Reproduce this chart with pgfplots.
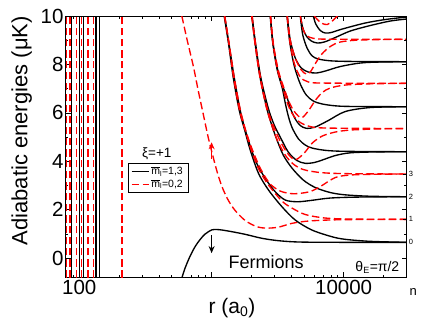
\documentclass[border=0pt]{standalone}
\usepackage{fontspec}
\setmainfont{Liberation Sans}
\usepackage{pgfplots}
\pgfplotsset{compat=1.18}
\usetikzlibrary{arrows.meta}
\pgfplotsset{
 bk/.style={black, line width=1.35pt, smooth, mark=none},
 rd/.style={red, line width=1.35pt, dash pattern=on 7.5pt off 3.5pt, smooth, mark=none},
}
\begin{document}
\begin{tikzpicture}
\begin{axis}[
 scale only axis, width=341pt, height=261.3pt,
 xmode=log, xmin=79, xmax=30000, ymin=-0.8, ymax=10,
 xtick={100,1000,10000}, xticklabels={100,,10000},
 minor xtick={80,90,200,300,400,500,600,700,800,900,2000,3000,4000,5000,6000,7000,8000,9000,20000,30000},
 ytick={0,2,4,6,8,10}, minor ytick={1,3,5,7,9},
 /pgf/number format/assume math mode=true,
 tick label style={font=\fontsize{20.5}{20.5}\selectfont},
 xticklabel style={inner sep=3pt},
 yticklabel style={inner sep=2pt},
 major tick length=5pt, minor tick length=2.5pt,
 tick style={black, line width=0.5pt},
 axis line style={line width=0.8pt},
 xlabel={r (a$_{\mbox{\fontsize{14}{14}\selectfont 0}}$)},
 ylabel={Adiabatic energies (μK)},
 every axis x label/.style={at={(rel axis cs:0.4877,-0.1175)}, anchor=center, font=\fontsize{21}{21}\selectfont},
 every axis y label/.style={at={(rel axis cs:-0.129,0.5607)}, rotate=90, anchor=center, font=\fontsize{22}{22}\selectfont},
 legend style={at={(rel axis cs:0.1818,0.4363)}, anchor=north west, draw=black, line width=0.5pt, font=\fontsize{10.5}{10.5}\selectfont, inner xsep=3pt, inner ysep=1.5pt, row sep=-0.5pt, cells={anchor=west}},
 legend image code/.code={\draw[#1] (0pt,0pt) -- (17pt,0pt);},
]
% black curves (m=1,3)
\addplot[bk] coordinates {(584,-0.997) (632,-0.418) (690,0.078) (753,0.471) (821,0.762) (896,0.988) (1007,1.161) (1105,1.174) (1205,1.153) (1435,1.083) (1800,0.976) (2421,0.810) (3241,0.711) (4699,0.657) (10300,0.645) (30000,0.645)};
\addlegendentry{$\overline{\mbox{m}}_{\mbox{\fontsize{7}{7}\selectfont l}}$=1,3}
\addplot[rd] coordinates {(597,10.0) (655,9.008) (731,7.904) (793,6.941) (870,5.907) (944,4.998) (1012,4.336) (1105,3.551) (1205,2.931) (1338,2.393) (1512,1.959) (1800,1.546) (2144,1.318) (2421,1.244) (2784,1.235) (3241,1.277) (4066,1.430) (5128,1.513) (6660,1.554) (10300,1.583) (30000,1.596)};
\addlegendentry{$\overline{\mbox{m}}_{\mbox{\fontsize{7}{7}\selectfont l}}$=0,2}
\addplot[bk, forget plot] coordinates {(1248,10.0) (1345,8.884) (1460,7.478) (1621,6.114) (1784,5.287) (1965,4.461) (2270,3.497) (2703,2.807) (3415,2.117) (4307,1.566) (5762,1.153) (8168,0.876) (10300,0.769) (15930,0.686) (30000,0.645)};
\addplot[bk, forget plot] coordinates {(1259,10.0) (1362,8.801) (1486,7.478) (1649,6.114) (1832,5.163) (2144,4.047) (2552,3.290) (3038,2.736) (3617,2.393) (4460,2.323) (5594,2.373) (7929,2.476) (13380,2.517) (30000,2.530)};
\addplot[bk, forget plot] coordinates {(2021,10.0) (2137,8.884) (2330,7.478) (2619,6.196) (2858,5.494) (3092,4.956) (3493,4.254) (4066,3.716) (4952,3.220) (6104,2.910) (7929,2.703) (10300,2.608) (15930,2.550) (30000,2.530)};
\addplot[bk, forget plot] coordinates {(2031,10.0) (2154,8.884) (2359,7.478) (2689,6.196) (2985,5.494) (3315,4.998) (3812,4.378) (4437,4.026) (5128,3.911) (5998,3.944) (6897,4.047) (8652,4.233) (11240,4.345) (17390,4.382) (30000,4.390)};
\addplot[bk, forget plot] coordinates {(2784,10.0) (2909,8.884) (3146,7.768) (3433,7.024) (3617,6.403) (3832,5.824) (4087,5.370) (4562,4.915) (5128,4.667) (5762,4.543) (7267,4.448) (10300,4.407) (30000,4.390)};
\addplot[bk, forget plot] coordinates {(2794,10.0) (2924,8.884) (3174,7.768) (3433,7.147) (3726,6.651) (3947,6.196) (4307,5.742) (4699,5.473) (5218,5.358) (6104,5.411) (7657,5.680) (10300,6.052) (15930,6.217) (30000,6.250)};
\addplot[bk, forget plot] coordinates {(3733,10.0) (3913,8.925) (4232,7.933) (4699,7.189) (5218,6.734) (5895,6.486) (6897,6.362) (8652,6.287) (11240,6.262) (30000,6.250)};
\addplot[bk, forget plot] coordinates {(3746,10.0) (3947,9.008) (4307,8.264) (4782,7.850) (5402,7.685) (6211,7.643) (7267,7.726) (9441,7.912) (13380,8.057) (18970,8.098) (30000,8.111)};
\addplot[bk, forget plot] coordinates {(4699,10.0) (4909,9.214) (5309,8.656) (5793,8.346) (6432,8.222) (7929,8.148) (11240,8.123) (30000,8.111)};
\addplot[bk, forget plot] coordinates {(4716,10.0) (4909,9.504) (5218,9.173) (5693,8.966) (6321,8.884) (7142,8.925) (8652,9.111) (11240,9.380) (15930,9.607) (22590,9.793) (30000,9.876)};
\addplot[bk, forget plot] coordinates {(5895,10.0) (6157,9.669) (6660,9.400) (7267,9.297) (8069,9.318) (9776,9.462) (14600,9.711) (20700,9.855) (30000,9.958)};
% black near-vertical walls
\addplot[bk, forget plot] coordinates {(87.3,-0.8) (87.3,10)};
\addplot[bk, forget plot] coordinates {(100,-0.8) (100,10)};
\addplot[bk, forget plot] coordinates {(107.2,-0.8) (107.2,10)};
\addplot[bk, forget plot] coordinates {(133.8,-0.8) (133.8,10)};
\addplot[bk, forget plot] coordinates {(141.7,-0.8) (141.7,10)};
% red curves (m=0,2)
\addplot[rd, forget plot] coordinates {(1255,10.0) (1353,8.884) (1468,7.478) (1629,6.114) (1800,5.287) (2000,4.461) (2298,3.634) (2703,3.014) (3415,2.352) (4066,2.063) (5128,1.794) (7267,1.649) (11240,1.608) (30000,1.596)};
\addplot[rd, forget plot] coordinates {(1261,10.0) (1362,8.842) (1486,7.478) (1649,6.155) (1832,5.204) (2071,4.378) (2380,3.634) (2784,3.055) (3315,2.765) (3947,2.662) (4538,2.662) (5594,2.745) (6660,2.951) (8652,3.324) (11240,3.427) (17390,3.460) (30000,3.468)};
\addplot[rd, forget plot] coordinates {(2017,10.0) (2133,8.884) (2326,7.478) (2610,6.196) (2858,5.494) (3146,4.874) (3617,4.254) (4159,3.882) (4952,3.654) (6660,3.530) (10300,3.485) (30000,3.468)};
\addplot[rd, forget plot] coordinates {(2031,10.0) (2152,8.884) (2347,7.478) (2642,6.196) (2909,5.535) (3229,4.956) (3617,4.461) (4017,4.150) (4383,4.068) (5039,4.336) (5793,4.750) (6897,5.039) (8652,5.204) (11240,5.287) (17390,5.329) (30000,5.349)};
\addplot[rd, forget plot] coordinates {(2794,10.0) (2919,8.884) (3157,7.768) (3433,7.106) (3681,6.527) (4017,6.031) (4538,5.659) (5402,5.453) (7267,5.370) (30000,5.349)};
\addplot[rd, forget plot] coordinates {(2804,10.0) (2934,8.884) (3201,7.768) (3493,7.106) (3812,6.527) (4159,6.114) (4538,5.866) (4866,5.804) (5402,6.072) (6136,6.527) (6897,6.838) (7929,7.024) (10300,7.147) (15930,7.197) (30000,7.218)};
\addplot[rd, forget plot] coordinates {(3739,10.0) (3920,8.925) (4247,8.016) (4699,7.478) (5309,7.292) (6660,7.230) (30000,7.218)};
\addplot[rd, forget plot] coordinates {(3752,10.0) (3947,9.008) (4307,8.264) (4782,7.768) (5218,7.602) (5594,7.685) (6211,8.098) (6897,8.449) (7929,8.739) (9441,8.925) (13380,9.008) (30000,9.037)};
\addplot[rd, forget plot] coordinates {(4708,10.0) (4952,9.421) (5309,9.173) (5998,9.070) (7929,9.041) (30000,9.037)};
\addplot[rd, forget plot] coordinates {(5998,10.0) (6432,9.814) (6897,9.690) (7525,9.648) (8211,9.793) (8959,10.0)};
% red near-vertical walls
\addplot[rd, forget plot] coordinates {(80.3,-0.8) (80.3,10)};
\addplot[rd, forget plot] coordinates {(85.0,-0.8) (85.0,10)};
\addplot[rd, forget plot] coordinates {(95.6,-0.8) (95.6,10)};
\addplot[rd, forget plot] coordinates {(104.3,-0.8) (104.3,10)};
\addplot[rd, forget plot] coordinates {(116.3,-0.8) (116.3,10)};
\addplot[rd, forget plot] coordinates {(128.1,-0.8) (128.1,10)};
\addplot[rd, forget plot] coordinates {(210.6,-0.8) (210.6,10)};
% annotations
\node[font=\fontsize{13.5}{13.5}\selectfont] at (axis cs:386,4.3) {ξ=+1};
\node[font=\fontsize{18}{18}\selectfont] at (axis cs:2597,-0.16) {Fermions};
\node[font=\fontsize{14}{14}\selectfont] at (axis cs:18000,-0.38) {θ$_{\mbox{\fontsize{9}{9}\selectfont E}}$=π/2};
\draw[-{Stealth[length=7pt,width=6pt]}, line width=1.7pt, black] (axis cs:1003,0.95) -- (axis cs:1003,0.2);
\draw[-{Stealth[length=7pt,width=6pt]}, line width=1.7pt, red] (axis cs:1003,4.1) -- (axis cs:1003,4.78);
\end{axis}
\begin{axis}[
 scale only axis, width=341pt, height=261.3pt,
 xmode=log, xmin=79, xmax=30000, ymin=-0.8, ymax=10,
 axis x line=none, axis y line*=right,
 axis line style={line width=0.8pt},
 ytick={0.645,1.596,2.530,3.468}, yticklabels={0,1,2,3},
 /pgf/number format/assume math mode=true,
 yticklabel style={font=\fontsize{7.5}{7.5}\selectfont, inner sep=2pt},
 major tick length=4pt, tick style={black, line width=0.5pt},
 clip=false,
]
\node[font=\fontsize{13}{13}\selectfont] at (rel axis cs:1.019,-0.055) {n};
\end{axis}
\pgfresetboundingbox
\path[use as bounding box] (-65.7pt,-49.7pt) rectangle (357.3pt,277.3pt);
\end{tikzpicture}
\end{document}
